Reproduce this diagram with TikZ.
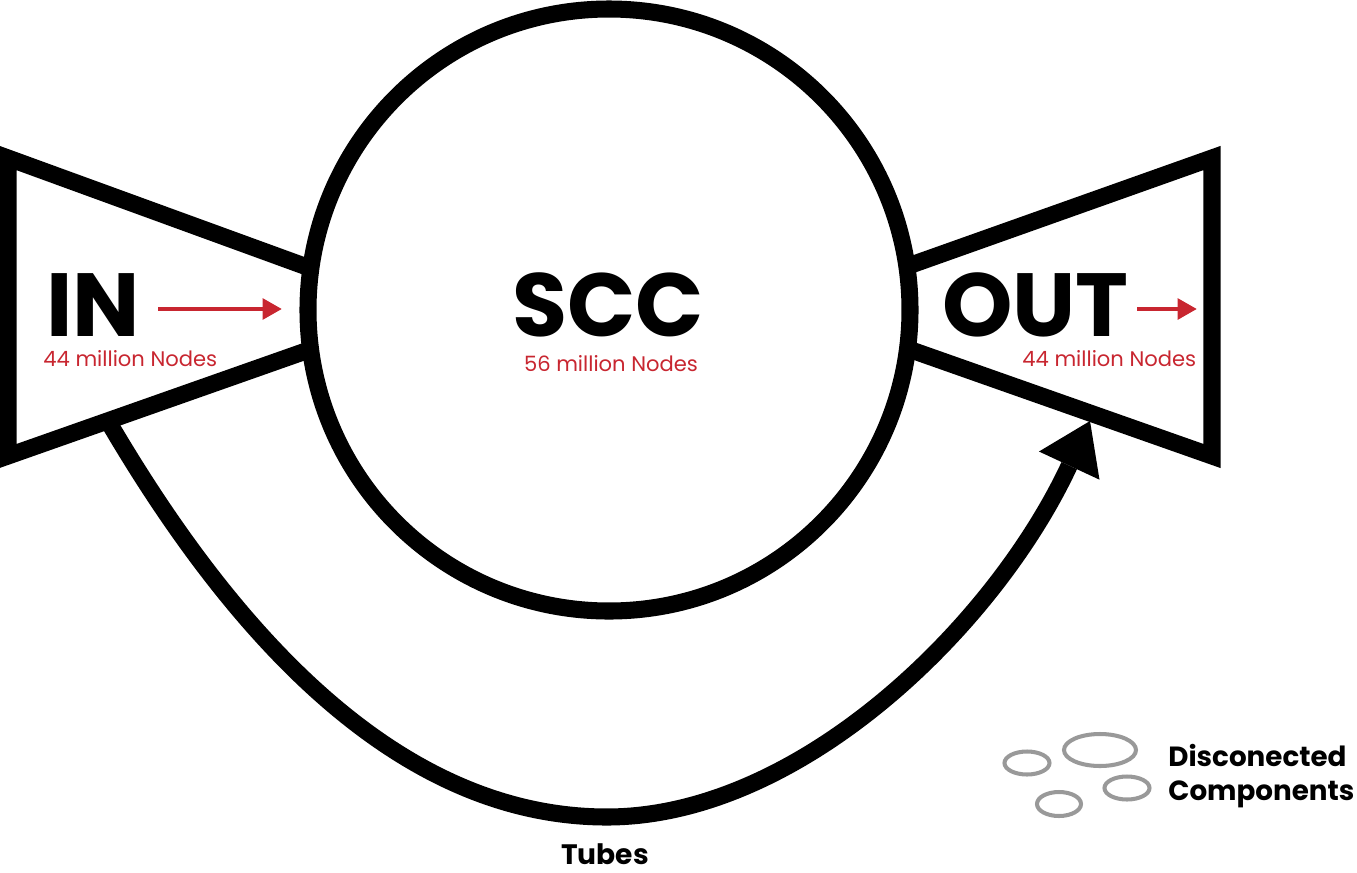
\documentclass[tikz,border=0pt]{standalone}
\usepackage{fontspec}
\setmainfont{Poppins}
\usetikzlibrary{arrows.meta}
\definecolor{nodered}{RGB}{200,38,48}
\definecolor{compgrey}{RGB}{153,153,153}
\tikzset{thick line/.style = {line width = 9.7pt, line join = miter}}
\tikzset{part title/.style = {font = \bfseries\fontsize{51}{51}\selectfont, inner sep = 0, text depth = 0pt}}
\tikzset{node count/.style = {text = nodered, font = \fontsize{12}{12}\selectfont, inner sep = 0, text height = 6.5pt}}
\tikzset{flow/.style = {nodered, line width = 2.8pt, -{Triangle[length = 11pt, width = 11.5pt]}}}
\tikzset{comp/.style = {draw = compgrey, line width = 2.3pt}}
\tikzset{caption/.style = {font = \bfseries\fontsize{16}{18}\selectfont, inner sep = 0}}

\begin{document}
\begin{tikzpicture}[x = 0.02cm, y = -0.02cm]
    \useasboundingbox (0, 0) rectangle (1357, 873);

    \coordinate (tubefrom) at (108, 421);
    \coordinate (tubeto) at (1090, 421);
    \draw [thick line, -{Triangle[length = 28pt, width = 38pt, line width = 0pt]}] (tubefrom) .. controls (245, 655) and (410, 817) .. (607, 817) .. controls (800, 817) and (995, 625) .. (tubeto);

    \draw [thick line] (340, 279) -- (8, 158) -- (8, 456) -- (340, 339);
    \draw [thick line] (880, 276) -- (1212, 158) -- (1212, 456) -- (880, 339);
    \draw [thick line, fill = white] (609, 310) circle [radius = 301];

    \node [part title, anchor = base west] (inlabel) at (46, 336) {IN};
    \node [node count, anchor = base west] (incount) at (43, 366) {44 million Nodes};
    \node [part title, anchor = base] (scclabel) at (608, 336) {SCC};
    \node [node count, anchor = base] (scccount) at (611, 371) {56 million Nodes};
    \node [part title, anchor = base west] (outlabel) at (942, 336) {OUT};
    \node [node count, anchor = base west] (outcount) at (1022, 366) {44 million Nodes};

    \coordinate (inflowfrom) at (158, 309);
    \coordinate (inflowto) at (282, 309);
    \coordinate (outflowfrom) at (1137, 309);
    \coordinate (outflowto) at (1197, 309);
    \draw [flow] (inflowfrom) -- (inflowto);
    \draw [flow] (outflowfrom) -- (outflowto);

    \node [caption, anchor = base] (tubes) at (605, 864) {Tubes};

    \foreach \cx/\cy/\rx/\ry in {1027/763/22.5/11.5, 1100/750/36/16, 1127/788/22.5/11.5, 1059/804/22/12} {
      \draw [comp] (\cx, \cy) ellipse [x radius = \rx, y radius = \ry];
    }
    \node [caption, anchor = north west, align = left, font = \bfseries\fontsize{15.8}{19.5}\selectfont] (disconnected) at (1168, 744) {Disconected\\Components};
  \end{tikzpicture}
\end{document}
